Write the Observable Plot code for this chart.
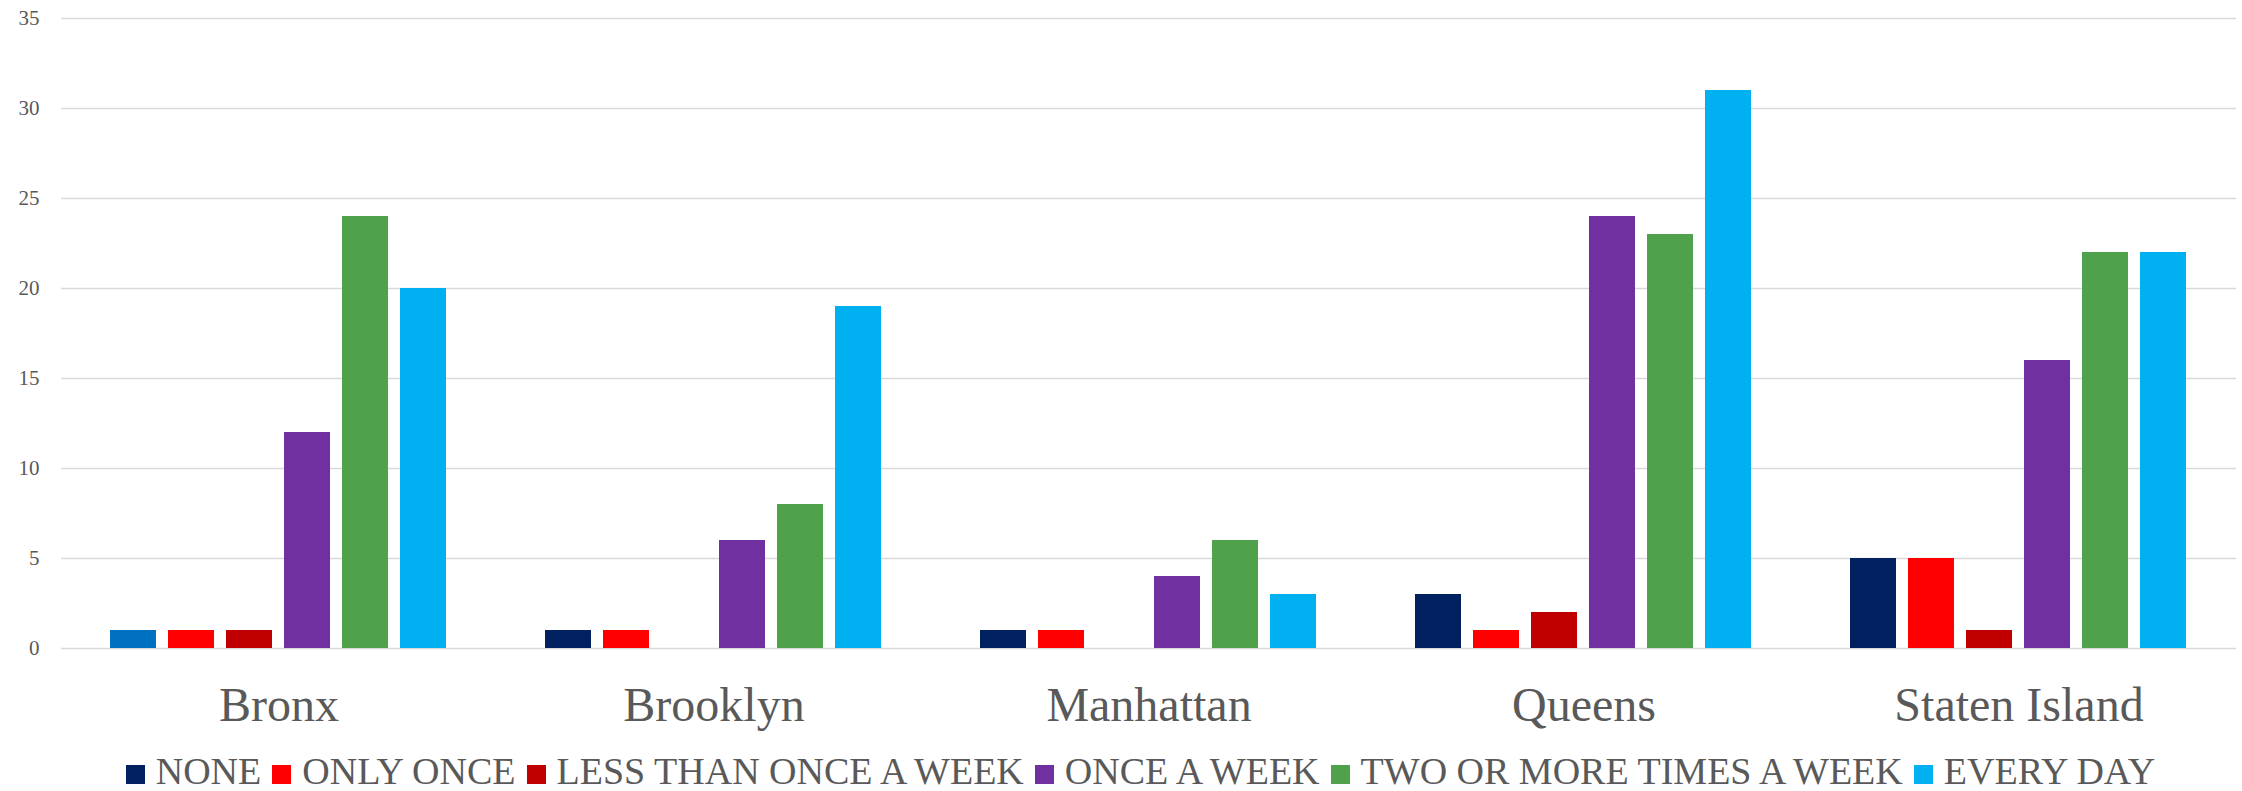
<!DOCTYPE html>
<html>
<head>
<meta charset="utf-8">
<script src="https://cdn.jsdelivr.net/npm/d3@7"></script>
<script src="https://cdn.jsdelivr.net/npm/@observablehq/plot@0.6"></script>
<style>
  html, body { margin: 0; padding: 0; background: #fff; overflow: hidden; }
  #chart svg { display: block; }
  #chart [aria-label^="fx-axis"] text { font-size: 48px; }
  #legend {
    display: flex; justify-content: center; align-items: baseline;
    height: 40px; line-height: 40px; padding-left: 50px;
    font-family: "Liberation Serif", "Times New Roman", Times, "DejaVu Serif", serif; font-size: 38px; color: #595959;
    white-space: nowrap;
  }
  #legend .item { margin-right: 11px; }
  #legend .sw { display: inline-block; width: 19px; height: 19px; margin-right: 11px; vertical-align: baseline; }
</style>
</head>
<body>
<div id="chart"></div>
<div id="legend"></div>
<script>
const boroughs = ["Bronx", "Brooklyn", "Manhattan", "Queens", "Staten Island"];
const seriesNames = ["NONE", "ONLY ONCE", "LESS THAN ONCE A WEEK", "ONCE A WEEK", "TWO OR MORE TIMES A WEEK", "EVERY DAY"];
const none        = [1, 1, 1, 3, 5];
const onlyOnce    = [1, 1, 1, 1, 5];
const lessThan    = [1, 0, 0, 2, 1];
const onceAWeek   = [12, 6, 4, 24, 16];
const twoOrMore   = [24, 8, 6, 23, 22];
const everyDay    = [20, 19, 3, 31, 22];
const yTicks = [0, 5, 10, 15, 20, 25, 30, 35];

const palette = ["#002060", "#FF0000", "#C00000", "#7030A0", "#50A14B", "#00B0F0"];
const highlightColor = "#0070C0";
const serifStack = "'Liberation Serif', 'Times New Roman', Times, 'DejaVu Serif', serif";

const seriesValues = [none, onlyOnce, lessThan, onceAWeek, twoOrMore, everyDay];
const data = [];
boroughs.forEach((b, i) => {
  seriesNames.forEach((s, j) => {
    data.push({borough: b, series: s, value: seriesValues[j][i]});
  });
});

const chart = Plot.plot({
  width: 2242,
  height: 751,
  marginLeft: 60,
  marginRight: 6,
  marginTop: 18,
  marginBottom: 103,
  style: {fontFamily: serifStack, fontSize: "21px", color: "#595959", background: "#fff"},
  fx: {domain: boroughs, padding: 0, tickSize: 0, tickPadding: 38, label: null},
  x: {domain: seriesNames, paddingInner: 0.2, paddingOuter: 0.85, axis: null},
  y: {domain: [0, 35], ticks: yTicks, tickSize: 0, tickPadding: 22, label: null},
  color: {domain: seriesNames, range: palette},
  marks: [
    Plot.ruleY(yTicks, {stroke: "#d9d9d9", strokeWidth: 1.5}),
    Plot.barY(data, {fx: "borough", x: "series", y: "value", fill: "series"}),
    Plot.barY(data.filter(d => d.borough === "Bronx" && d.series === "NONE"),
      {fx: "borough", x: "series", y: "value", fill: highlightColor})
  ]
});
chart.querySelectorAll("text").forEach(t => t.style.fontFamily = serifStack);
document.getElementById("chart").appendChild(chart);

const legend = document.getElementById("legend");
seriesNames.forEach((s, j) => {
  const item = document.createElement("span");
  item.className = "item";
  const sw = document.createElement("span");
  sw.className = "sw";
  sw.style.background = palette[j];
  item.appendChild(sw);
  item.appendChild(document.createTextNode(s));
  legend.appendChild(item);
});
</script>
</body>
</html>
